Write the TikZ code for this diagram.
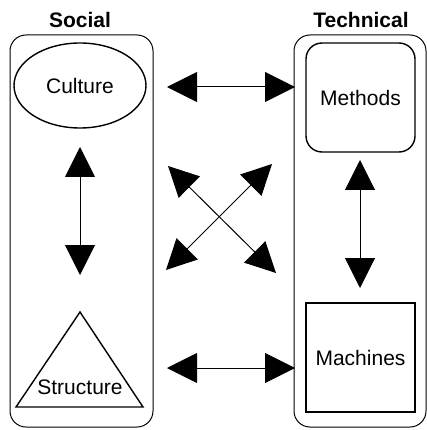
\documentclass[tikz,border=0pt]{standalone}
\usepackage{fontspec}
\setmainfont{Liberation Sans}
\usetikzlibrary{arrows.meta,shapes.geometric}
\begin{document}
\begin{tikzpicture}[x=1pt,y=-1pt,
  lbl/.style={font=\fontsize{21}{25}\selectfont},
  ttl/.style={font=\fontsize{21}{25}\selectfont\bfseries},
  group/.style={draw,line width=1pt,rounded corners=16pt},
  shp/.style={draw,line width=1.4pt},
  biarrow/.style={line width=1pt,{Triangle[length=30pt,width=30pt]}-{Triangle[length=30pt,width=30pt]}}]
\useasboundingbox (0,0) rectangle (427,430);
% groups
\draw[group] (10,35) rectangle (153,427);
\draw[group] (294,35) rectangle (426,427);
\node[ttl] (social) at (80,20) {Social};
\node[ttl] (technical) at (361,20) {Technical};
% shapes
\node[shp,ellipse,minimum width=132pt,minimum height=85pt,inner sep=0pt,lbl] (culture) at (80,85.5) {Culture};
\node[shp,rounded corners=16pt,minimum width=109pt,minimum height=109pt,inner sep=0pt,lbl] (methods) at (360.5,97.5) {Methods};
\node[shp,minimum width=109pt,minimum height=109pt,inner sep=0pt,lbl] (machines) at (360.5,357.5) {Machines};
\coordinate (tA) at (80,312);
\coordinate (tL) at (16,407);
\coordinate (tR) at (143,407);
\draw[shp,line join=miter] (tA) -- (tL) -- (tR) -- cycle;
\node[lbl,inner sep=0pt] (structure) at (80,387) {Structure};
% arrow end points
\coordinate (h1a) at (167,87);
\coordinate (h1b) at (295,87);
\coordinate (h2a) at (167,368);
\coordinate (h2b) at (295,368);
\coordinate (v1a) at (80,147);
\coordinate (v1b) at (80,275);
\coordinate (v2a) at (360,160);
\coordinate (v2b) at (360,288);
\coordinate (d1a) at (168,166);
\coordinate (d1b) at (276,273);
\coordinate (d2a) at (272,164);
\coordinate (d2b) at (166,270);
\draw[biarrow] (h1a) -- (h1b);
\draw[biarrow] (h2a) -- (h2b);
\draw[biarrow] (v1a) -- (v1b);
\draw[biarrow] (v2a) -- (v2b);
\draw[biarrow] (d1a) -- (d1b);
\draw[biarrow] (d2a) -- (d2b);
\end{tikzpicture}
\end{document}
